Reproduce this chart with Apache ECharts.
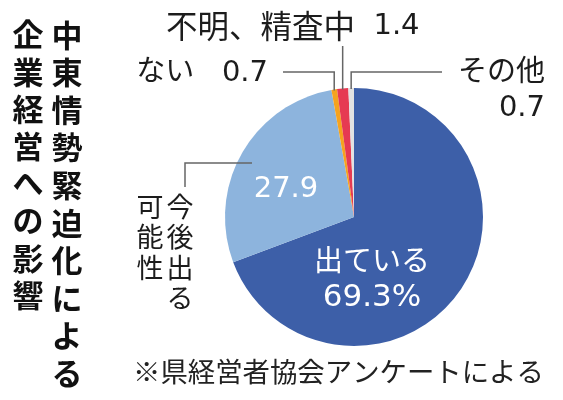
<!DOCTYPE html>
<html><head><meta charset="utf-8">
<script src="https://cdn.jsdelivr.net/npm/echarts@6/dist/echarts.min.js"></script>
<style>html,body{margin:0;padding:0;background:#fff}#c{width:563px;height:400px}</style>
</head><body><div id="c"></div>
<script>
// ---- data ----
const categories = ['出ている', '今後出る可能性', 'ない', '不明、精査中', 'その他'];
const values = [69.3, 27.9, 0.7, 1.4, 0.7];
const titleColumns = ['中東情勢緊迫化による', '企業経営への影響'];
const note = '※県経営者協会アンケートによる';
// ---- styles ----
const sliceColors = ['#3d5fa8', '#8db4dd', '#f5a31f', '#e63a52', '#e2e2e2'];
const CJK = "'Noto Sans CJK JP'";
const MIX = "'DejaVu Sans','Noto Sans CJK JP'";
const TXT = '#1c1c1c';

const chart = echarts.init(document.getElementById('c'), null, {renderer: 'canvas'});

const center = [354, 217];
const radius = 129;

function fmtInner(p) {
  if (p.dataIndex === 0) return '{c|' + p.name + '}\n{n|' + p.value.toFixed(1) + '%}';
  if (p.dataIndex === 1) return '{n2|' + p.value.toFixed(1) + '}';
  return '';
}
function fmtOuter(p) {
  const i = p.dataIndex, name = p.name, v = p.value.toFixed(1);
  if (i === 1) {
    const c1 = name.slice(0, 4).split(''), c2 = name.slice(4).split('');
    const rows = [];
    for (let k = 0; k < Math.max(c1.length, c2.length); k++) {
      rows.push('{a|' + (c2[k] || '　') + '}{b|' + (c1[k] || '　') + '}');
    }
    return rows.join('\n');
  }
  if (i === 2) return name + '   ' + v;
  if (i === 3) return '{k|' + name + '}{v|  ' + v + '}';
  if (i === 4) return name + '\n' + v;
  return '';
}

const option = {
  backgroundColor: '#fff',
  animation: false,
  graphic: [
    { type: 'text', style: { text: titleColumns[0].split('').join('\n'), x: 67, y: 16, textAlign: 'center', font: 'bold 31px ' + CJK, lineHeight: 37.6, fill: '#111' } },
    { type: 'text', style: { text: titleColumns[1].split('').join('\n'), x: 28, y: 16, textAlign: 'center', font: 'bold 31px ' + CJK, lineHeight: 37.2, fill: '#111' } },
    { type: 'text', style: { text: note, x: 133, y: 372, textVerticalAlign: 'middle', font: '27.4px ' + CJK, fill: '#222' } }
  ],
  series: [
    {
      type: 'pie', center: center, radius: radius, startAngle: 90, clockwise: true,
      avoidLabelOverlap: false, silent: true,
      data: categories.map((n, i) => ({ name: n, value: values[i], itemStyle: { color: sliceColors[i] },
        label: { show: i < 2 } })),
      label: {
        position: 'inside', formatter: fmtInner, color: '#fff',
        rich: {
          c: { fontFamily: CJK, fontSize: 29, color: '#fff', lineHeight: 38, align: 'center' },
          n: { fontFamily: MIX, fontSize: 31, color: '#fff', lineHeight: 38, align: 'center' },
          n2: { fontFamily: MIX, fontSize: 29, color: '#fff', align: 'center' }
        }
      },
      labelLine: { show: false },
      labelLayout: function (p) {
        if (p.dataIndex === 0) return { x: 372, y: 279, align: 'center', verticalAlign: 'middle' };
        if (p.dataIndex === 1) return { x: 286, y: 189, align: 'center', verticalAlign: 'middle' };
        return {};
      }
    },
    {
      type: 'pie', center: center, radius: radius, startAngle: 90, clockwise: true,
      avoidLabelOverlap: false, silent: true, z: 3,
      itemStyle: { color: 'rgba(0,0,0,0)' },
      data: categories.map((n, i) => ({ name: n, value: values[i], label: { show: i > 0 }, labelLine: { show: i > 0 } })),
      label: {
        position: 'outside', formatter: fmtOuter, color: TXT, fontFamily: MIX, fontSize: 29,
        lineHeight: 35,
        rich: {
          a: { fontFamily: CJK, fontSize: 27, width: 30, align: 'center', lineHeight: 30.5, color: TXT },
          b: { fontFamily: CJK, fontSize: 27, width: 30, align: 'center', lineHeight: 30.5, color: TXT },
          k: { fontFamily: CJK, fontSize: 31.5, color: TXT },
          v: { fontFamily: MIX, fontSize: 29, color: TXT }
        }
      },
      labelLine: { show: true, lineStyle: { color: '#666', width: 1.5 } },
      labelLayout: function (p) {
        const e = (p.labelLinePoints && p.labelLinePoints[0]) || [center[0], center[1] - radius];
        const ex = e[0], ey = e[1] + 1;
        switch (p.dataIndex) {
          case 1: return { x: 135, y: 191, align: 'left', verticalAlign: 'top',
            labelLinePoints: [[252, 163], [185, 163], [185, 187]] };
          case 2: return { x: 268, y: 73, align: 'right', verticalAlign: 'middle',
            labelLinePoints: [[ex, ey], [ex, 72], [283, 72]] };
          case 3: return { x: 166, y: 26, align: 'left', verticalAlign: 'middle',
            labelLinePoints: [[ex, ey], [ex, 46]] };
          case 4: return { x: 545, y: 56, align: 'right', verticalAlign: 'top',
            labelLinePoints: [[ex, ey], [ex, 72], [442, 72]] };
        }
        return {};
      }
    }
  ]
};
chart.setOption(option);
</script>
</body></html>
